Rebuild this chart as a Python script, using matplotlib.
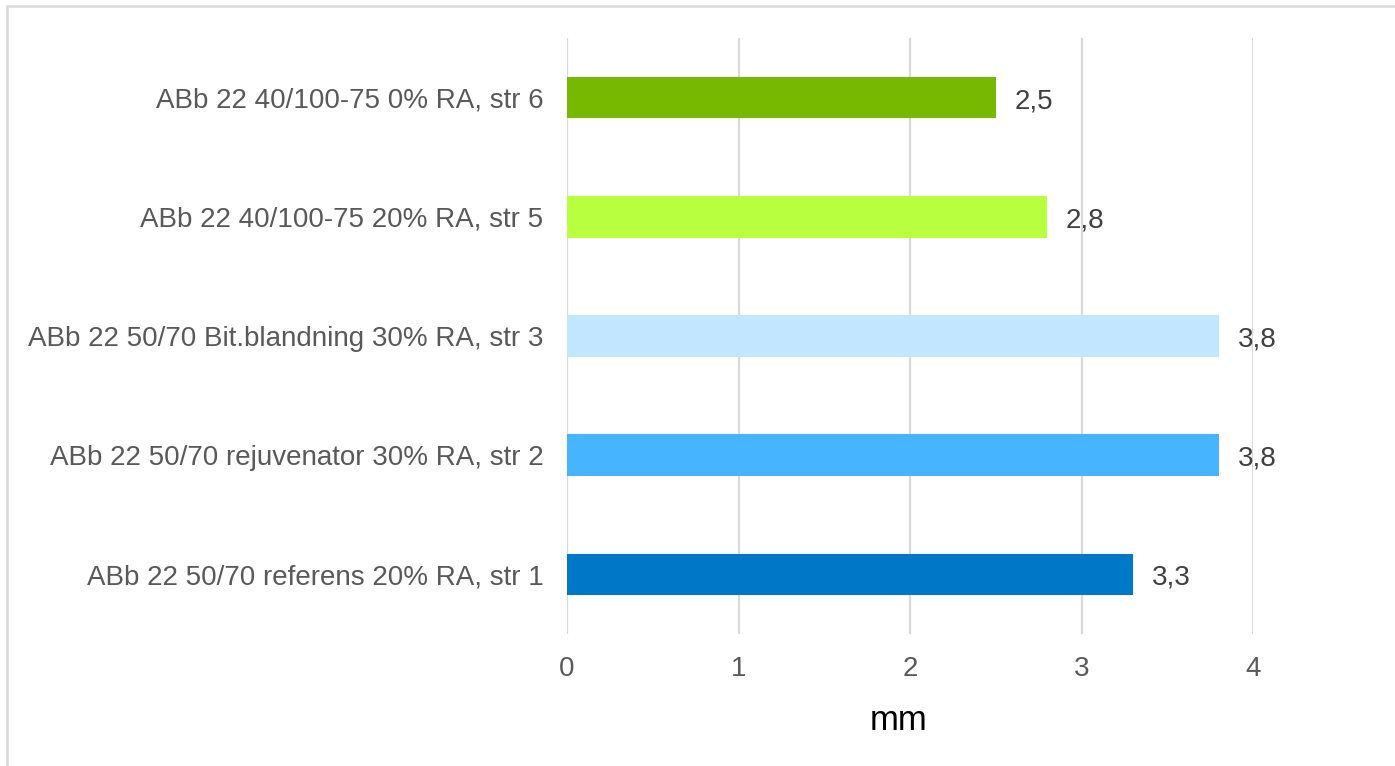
import matplotlib.pyplot as plt
from matplotlib.patches import Rectangle

# Rut depth per test section (mm)
categories = [
    "ABb 22 50/70 referens 20% RA, str 1",
    "ABb 22 50/70 rejuvenator 30% RA, str 2",
    "ABb 22 50/70 Bit.blandning 30% RA, str 3",
    "ABb 22 40/100-75 20% RA, str 5",
    "ABb 22 40/100-75 0% RA, str 6",
]
values = [3.3, 3.8, 3.8, 2.8, 2.5]
colors = ["#0078C8", "#47B4FF", "#C2E6FF", "#B8FF40", "#76B900"]
xticks = [0, 1, 2, 3, 4]

plt.rcParams['font.family'] = ['Liberation Sans', 'DejaVu Sans']

W, H = 1395, 766
fig = plt.figure(figsize=(W / 100, H / 100), dpi=100)
ax = fig.add_axes([567 / W, 1 - 634 / H, (1253 - 567) / W, (634 - 38) / H])

ypos = list(range(len(categories)))
ax.barh(ypos, values, height=0.35, color=colors, zorder=3)

ax.set_xlim(0, 4)
ax.set_ylim(-0.5, len(categories) - 0.5)
ax.set_xticks(xticks)
ax.set_xticklabels([str(t) for t in xticks])
ax.set_yticks(ypos)
ax.set_yticklabels(categories)
ax.tick_params(axis='y', length=0, pad=17, labelsize=20, labelcolor='#595959')
ax.tick_params(axis='x', length=0, pad=16, labelsize=20, labelcolor='#595959')

ax.grid(axis='x', color='#D9D9D9', linewidth=1.6, zorder=0)
for s in ax.spines.values():
    s.set_visible(False)

fig.text(899 / W, 1 - 720 / H, 'mm', fontsize=25, color='black', ha='center', va='center')

# Value labels next to each bar
for y, v in zip(ypos, values):
    ax.text(v + 0.11, y - 0.03, f"{v:.1f}".replace('.', ','), va='center', ha='left',
            fontsize=20, color='#404040', clip_on=False, zorder=4)

# Outer chart frame
fig.patches.append(Rectangle((7 / W, -0.1), 1.2, 1 - 6 / H + 0.1, transform=fig.transFigure,
                             fill=False, edgecolor='#D9D9D9', linewidth=1.8))

fig.savefig('out.png', dpi=100)
plt.close(fig)
